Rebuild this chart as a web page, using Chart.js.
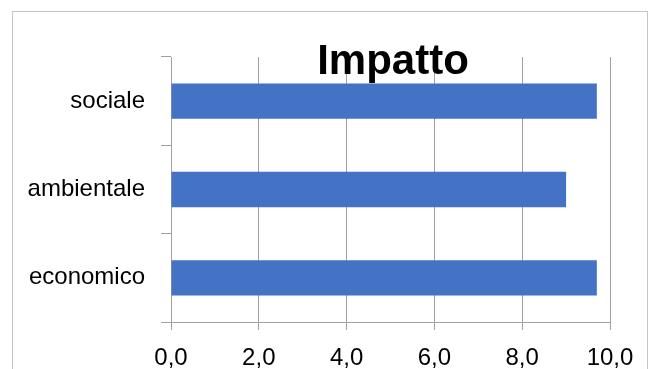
<!DOCTYPE html>
<html>
<head>
<meta charset="utf-8">
<script src="https://cdn.jsdelivr.net/npm/chart.js@4"></script>
<style>
  html, body { margin: 0; padding: 0; background: #fff; }
  #wrap { position: relative; width: 655px; height: 369px; overflow: hidden; }
  #frame {
    position: absolute; left: 12px; top: 11px; width: 636px; height: 400px;
    border: 1px solid #c4c4c4; box-sizing: border-box; pointer-events: none;
  }
</style>
</head>
<body>
<div id="wrap">
  <canvas id="chart" width="655" height="369"></canvas>
  <div id="frame"></div>
</div>
<script>
// data
const categories = ["sociale", "ambientale", "economico"];
const impatto = [9.7, 9.0, 9.7];
const titleText = "Impatto";

const gridGray = "#a0a0a0";

// title drawn over the plot, like the original
const titlePlugin = {
  id: "overTitle",
  afterDraw(chart) {
    const ctx = chart.ctx;
    ctx.save();
    ctx.font = "bold 42px 'Liberation Sans'";
    ctx.fillStyle = "#000";
    ctx.textAlign = "center";
    ctx.textBaseline = "alphabetic";
    ctx.fillText(titleText, 393, 74);
    ctx.restore();
  }
};

new Chart(document.getElementById("chart"), {
  type: "bar",
  data: {
    labels: categories,
    datasets: [{
      label: titleText,
      data: impatto,
      backgroundColor: "#4472C4",
      barPercentage: 0.5,
      categoryPercentage: 0.8
    }]
  },
  options: {
    indexAxis: "y",
    responsive: false,
    animation: false,
    layout: { padding: { left: 0, right: 45, top: 57, bottom: 0 } },
    plugins: {
      legend: { display: false },
      title: { display: false },
      tooltip: { enabled: false }
    },
    scales: {
      x: {
        min: 0,
        max: 10,
        afterFit: s => { s.height = 47; },
        ticks: {
          stepSize: 2,
          padding: 14,
          color: "#000",
          font: { family: "'Liberation Sans'", size: 24 },
          maxRotation: 0,
          callback: v => v.toFixed(1).replace(".", ",")
        },
        grid: { color: gridGray, tickLength: 8, lineWidth: 1 },
        border: { color: gridGray }
      },
      y: {
        afterFit: s => { s.width = 171; },
        ticks: {
          padding: 16,
          color: "#000",
          font: { family: "'Liberation Sans'", size: 24 }
        },
        grid: { offset: true, drawOnChartArea: false, color: gridGray, tickLength: 10 },
        border: { color: gridGray }
      }
    }
  },
  plugins: [titlePlugin]
});
</script>
</body>
</html>
